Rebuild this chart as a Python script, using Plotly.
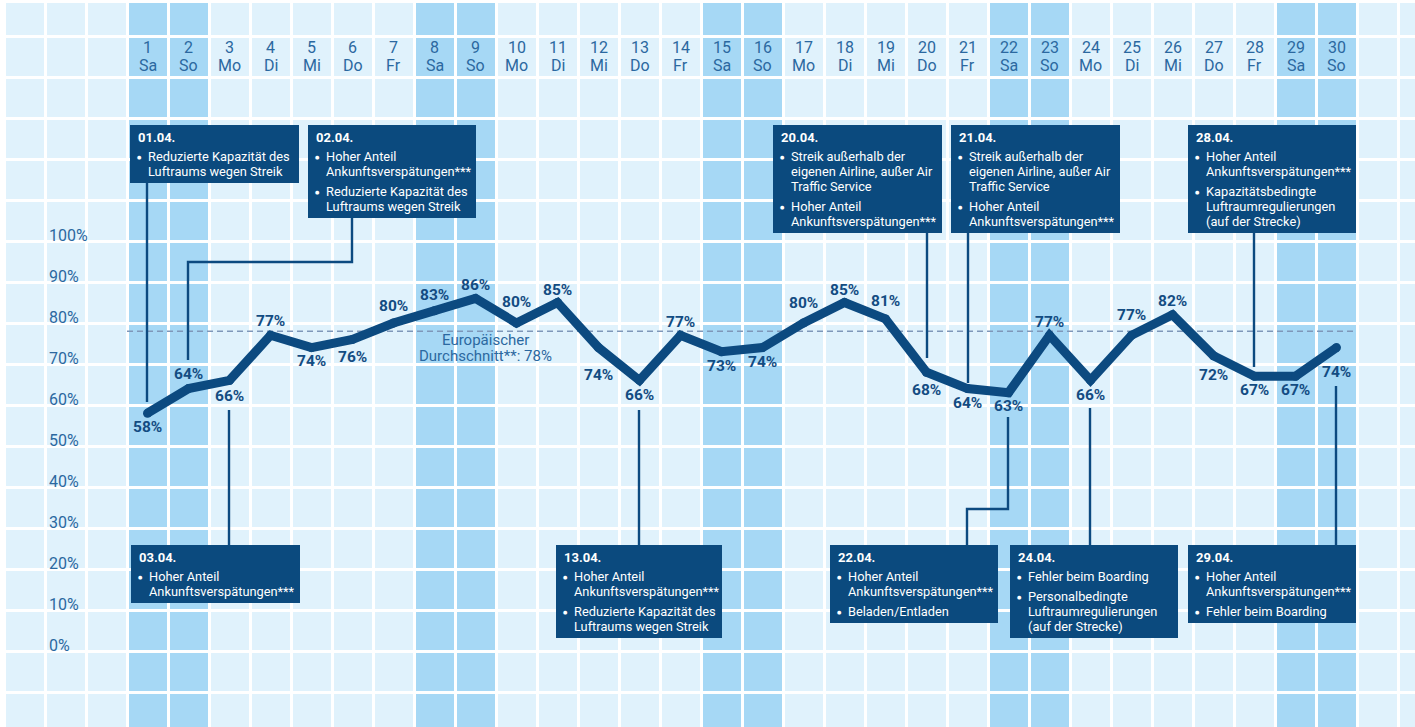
import plotly.graph_objects as go

# ---------------- data ----------------
days = list(range(1, 31))
weekdays = ["Sa", "So", "Mo", "Di", "Mi", "Do", "Fr",
            "Sa", "So", "Mo", "Di", "Mi", "Do", "Fr",
            "Sa", "So", "Mo", "Di", "Mi", "Do", "Fr",
            "Sa", "So", "Mo", "Di", "Mi", "Do", "Fr",
            "Sa", "So"]
punctuality = [58, 64, 66, 77, 74, 76, 80, 83, 86, 80,
               85, 74, 66, 77, 73, 74, 80, 85, 81, 68,
               64, 63, 77, 66, 77, 82, 72, 67, 67, 74]
european_avg = 78
avg_label = ["Europäischer", "Durchschnitt**: 78%"]
y_tick_values = [0, 10, 20, 30, 40, 50, 60, 70, 80, 90, 100]
y_tick_labels = ["0%", "10%", "20%", "30%", "40%", "50%", "60%", "70%", "80%", "90%", "100%"]

callout_dates = ["01.04.", "02.04.", "03.04.", "13.04.", "20.04.",
                 "21.04.", "22.04.", "24.04.", "28.04.", "29.04."]
callout_bullets = [
    [["Reduzierte Kapazität des", "Luftraums wegen Streik"]],
    [["Hoher Anteil", "Ankunftsverspätungen***"], ["Reduzierte Kapazität des", "Luftraums wegen Streik"]],
    [["Hoher Anteil", "Ankunftsverspätungen***"]],
    [["Hoher Anteil", "Ankunftsverspätungen***"], ["Reduzierte Kapazität des", "Luftraums wegen Streik"]],
    [["Streik außerhalb der", "eigenen Airline, außer Air", "Traffic Service"], ["Hoher Anteil", "Ankunftsverspätungen***"]],
    [["Streik außerhalb der", "eigenen Airline, außer Air", "Traffic Service"], ["Hoher Anteil", "Ankunftsverspätungen***"]],
    [["Hoher Anteil", "Ankunftsverspätungen***"], ["Beladen/Entladen"]],
    [["Fehler beim Boarding"], ["Personalbedingte", "Luftraumregulierungen", "(auf der Strecke)"]],
    [["Hoher Anteil", "Ankunftsverspätungen***"], ["Kapazitätsbedingte", "Luftraumregulierungen", "(auf der Strecke)"]],
    [["Hoher Anteil", "Ankunftsverspätungen***"], ["Fehler beim Boarding"]],
]

# ---------------- layout / style ----------------
W, H = 1415, 727
COL0, COLW = 147.5, 41.0       # px of day-1 centre, px per day
ROW100, ROWH = 241.0, 4.1      # px of 100 %, px per percent

def X(px):
    return 1 + (px - COL0) / COLW

def Y(py):
    return 100 - (py - ROW100) / ROWH

LIGHT = "#E0F2FC"
WEEKEND = "#A6D8F5"
NAVY = "#0C4A80"
BOX = "#0B4A7E"
LABEL = "#134C82"
TICK = "#2B68A0"
AVG = "#7E97B9"
FONT = "Roboto"

# label offsets (px below(+) / above(-) the point)
label_offsets = [14, -15, 16, -14, 13, 18, -17, -16, -13, -21,
                 -13, 27, 15, -13, 14, 14, -20, -13, -18, 18,
                 14, 13, -13, 15, -20, -14, 19, 14, 14, 24]

# callout geometry in px: (x0, y0, x1), connector path
callout_boxes = [(130, 125, 299), (308, 125, 476), (131, 545, 300), (556, 545, 722),
                 (773, 125, 942), (951, 125, 1120), (830, 545, 998), (1010, 545, 1178),
                 (1188, 125, 1356), (1188, 545, 1356)]
callout_paths = [
    [(147, 183), (147, 402)],
    [(352, 218), (352, 262), (188, 262), (188, 360)],
    [(229, 545), (229, 410)],
    [(639, 545), (639, 410)],
    [(927, 232), (927, 358)],
    [(968, 232), (968, 383)],
    [(967, 545), (967, 509), (1008, 509), (1008, 417)],
    [(1090, 545), (1090, 408)],
    [(1254, 232), (1254, 367)],
    [(1336, 545), (1336, 386)],
]

fig = go.Figure()
shapes = []
annotations = []

# weekend columns
for d, wd in zip(days, weekdays):
    if wd in ("Sa", "So"):
        shapes.append(dict(type="rect", xref="x", yref="y", x0=d - 0.5, x1=d + 0.5,
                           y0=Y(H) - 10, y1=Y(0) + 10, fillcolor=WEEKEND,
                           line=dict(width=0), layer="below"))

# white frame strip top/left
shapes.append(dict(type="rect", xref="paper", yref="paper", x0=0, x1=3.5 / W, y0=0, y1=1,
                   fillcolor="white", line=dict(width=0), layer="above"))
shapes.append(dict(type="rect", xref="paper", yref="paper", x0=0, x1=1, y0=1 - 3 / H, y1=1,
                   fillcolor="white", line=dict(width=0), layer="above"))

# european average dashed line
fig.add_trace(go.Scatter(x=[days[0] - 0.5, days[-1] + 0.5], y=[european_avg, european_avg],
                         mode="lines", line=dict(color=AVG, width=1.6, dash="6px,4px"),
                         hoverinfo="skip", showlegend=False))
for i, t in enumerate(avg_label):
    annotations.append(dict(x=X(485), y=Y(340 + 16 * i), xref="x", yref="y", text=t,
                            showarrow=False, xanchor="center", yanchor="middle",
                            font=dict(family=FONT, size=15, color=TICK)))

# connectors
for path in callout_paths:
    fig.add_trace(go.Scatter(x=[X(p[0]) for p in path], y=[Y(p[1]) for p in path],
                             mode="lines", line=dict(color=NAVY, width=2.4),
                             hoverinfo="skip", showlegend=False))

# main line
fig.add_trace(go.Scatter(x=days, y=punctuality, mode="lines+markers",
                         line=dict(color=NAVY, width=9),
                         marker=dict(size=9, color=NAVY, line=dict(width=0)),
                         hoverinfo="skip", showlegend=False))

# value labels
for d, v, off in zip(days, punctuality, label_offsets):
    annotations.append(dict(x=d, y=v, xref="x", yref="y", text=f"<b>{v}%</b>",
                            showarrow=False, yshift=-off, xanchor="center", yanchor="middle",
                            font=dict(family=FONT, size=15.5, color=LABEL)))

# header day labels
for d, wd in zip(days, weekdays):
    annotations.append(dict(x=d, y=Y(47), xref="x", yref="y", text=str(d), showarrow=False,
                            xanchor="center", yanchor="middle",
                            font=dict(family=FONT, size=16, color=TICK)))
    annotations.append(dict(x=d, y=Y(65), xref="x", yref="y", text=wd, showarrow=False,
                            xanchor="center", yanchor="middle",
                            font=dict(family=FONT, size=16, color=TICK)))

# y tick labels (sit just above their grid line)
for v, t in zip(y_tick_values, y_tick_labels):
    annotations.append(dict(x=X(47), y=v, xref="x", yref="y", text=t, showarrow=False,
                            xanchor="left", yanchor="middle", yshift=6,
                            font=dict(family=FONT, size=16, color=TICK)))

# callout boxes
for date, bullets, (x0, y0, x1) in zip(callout_dates, callout_bullets, callout_boxes):
    lines = []
    yy = y0 + 31
    for b in bullets:
        for j, ln in enumerate(b):
            lines.append((yy, ln, j == 0))
            yy += 15
        yy += 5
    y1 = lines[-1][0] + 12
    shapes.append(dict(type="rect", xref="x", yref="y", x0=X(x0), x1=X(x1), y0=Y(y1), y1=Y(y0),
                       fillcolor=BOX, line=dict(width=0), layer="above"))
    annotations.append(dict(x=X(x0 + 6), y=Y(y0 + 12), xref="x", yref="y", text=f"<b>{date}</b>",
                            showarrow=False, xanchor="left", yanchor="middle",
                            font=dict(family=FONT, size=13, color="white")))
    for (ly, ln, first) in lines:
        if first:
            annotations.append(dict(x=X(x0 + 9), y=Y(ly + 1), xref="x", yref="y", text="●",
                                    showarrow=False, xanchor="center", yanchor="middle",
                                    font=dict(family="DejaVu Sans", size=5, color="white")))
        annotations.append(dict(x=X(x0 + 16), y=Y(ly), xref="x", yref="y", text=ln,
                                showarrow=False, xanchor="left", yanchor="middle",
                                font=dict(family=FONT, size=12.8, color="white")))

fig.update_layout(
    width=W, height=H, margin=dict(l=0, r=0, t=0, b=0, pad=0),
    paper_bgcolor="white", plot_bgcolor=LIGHT,
    shapes=shapes, annotations=annotations, showlegend=False,
    xaxis=dict(range=[X(0), X(W)], tickvals=[k + 0.5 for k in range(-3, 32)],
               showticklabels=False, ticks="", showgrid=True, gridcolor="white",
               gridwidth=3, zeroline=False, showline=False, fixedrange=True),
    yaxis=dict(range=[Y(H), Y(0)], tickvals=list(range(-20, 170, 10)),
               showticklabels=False, ticks="", showgrid=True, gridcolor="white",
               gridwidth=3, zeroline=False, showline=False, fixedrange=True),
)

fig.write_html("out.html", config={"displayModeBar": False},
               post_script="document.body.style.margin='0';document.body.style.overflow='hidden';")
